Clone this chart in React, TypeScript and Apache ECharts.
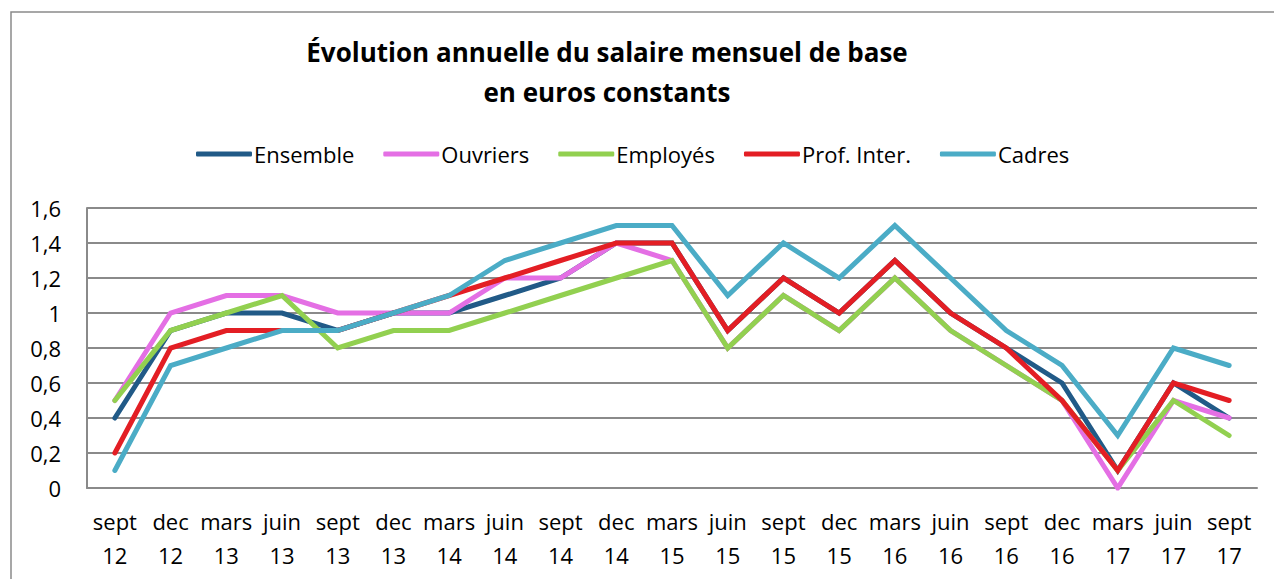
import React, { useEffect, useRef } from "react";
import * as echarts from "echarts";

const months = ["sept", "dec", "mars", "juin", "sept", "dec", "mars", "juin", "sept", "dec", "mars", "juin", "sept", "dec", "mars", "juin", "sept", "dec", "mars", "juin", "sept"];
const years = ["12", "12", "13", "13", "13", "13", "14", "14", "14", "14", "15", "15", "15", "15", "16", "16", "16", "16", "17", "17", "17"];

const ensemble = [0.4, 0.9, 1.0, 1.0, 0.9, 1.0, 1.0, 1.1, 1.2, 1.4, 1.4, 0.9, 1.2, 1.0, 1.3, 1.0, 0.8, 0.6, 0.1, 0.6, 0.4];
const ouvriers = [0.5, 1.0, 1.1, 1.1, 1.0, 1.0, 1.0, 1.2, 1.2, 1.4, 1.3, 0.8, 1.1, 0.9, 1.2, 0.9, 0.7, 0.5, 0.0, 0.5, 0.4];
const employes = [0.5, 0.9, 1.0, 1.1, 0.8, 0.9, 0.9, 1.0, 1.1, 1.2, 1.3, 0.8, 1.1, 0.9, 1.2, 0.9, 0.7, 0.5, 0.1, 0.5, 0.3];
const profInter = [0.2, 0.8, 0.9, 0.9, 0.9, 1.0, 1.1, 1.2, 1.3, 1.4, 1.4, 0.9, 1.2, 1.0, 1.3, 1.0, 0.8, 0.5, 0.1, 0.6, 0.5];
const cadres = [0.1, 0.7, 0.8, 0.9, 0.9, 1.0, 1.1, 1.3, 1.4, 1.5, 1.5, 1.1, 1.4, 1.2, 1.5, 1.2, 0.9, 0.7, 0.3, 0.8, 0.7];

const seriesNames = ["Ensemble", "Ouvriers", "Employés", "Prof. Inter.", "Cadres"];
const seriesColors = ["#215A87", "#E46FE4", "#92D050", "#E31E24", "#4BACC6"];
const seriesData = [ensemble, ouvriers, employes, profInter, cadres];

const titleLines = ["Évolution annuelle du salaire mensuel de base", "en euros constants"];

const FONT = "'Open Sans', sans-serif";

export default function App() {
  const ref = useRef<HTMLDivElement>(null);
  useEffect(() => {
    if (!ref.current) return;
    const chart = echarts.init(ref.current, undefined, { renderer: "svg" });
    const categories = months.map((m, i) => m + "\n" + years[i]);
    chart.setOption({
      animation: false,
      backgroundColor: "#ffffff",
      textStyle: { fontFamily: FONT },
      graphic: [
        {
          type: "rect",
          shape: { x: 11, y: 12, width: 1300, height: 620 },
          style: { fill: "none", stroke: "#8a8a8a", lineWidth: 1.5 },
          silent: true,
          z: -1,
        },
        {
          type: "text",
          x: 607,
          y: 52,
          style: {
            text: titleLines[0],
            fontFamily: FONT,
            fontWeight: "bold",
            fontSize: 26,
            fill: "#000",
            textAlign: "center",
            textVerticalAlign: "middle",
          },
        },
        {
          type: "text",
          x: 607,
          y: 92,
          style: {
            text: titleLines[1],
            fontFamily: FONT,
            fontWeight: "bold",
            fontSize: 26,
            fill: "#000",
            textAlign: "center",
            textVerticalAlign: "middle",
          },
        },
      ],
      legend: {
        data: seriesNames,
        left: 191,
        top: 138,
        icon: "roundRect",
        itemWidth: 56,
        itemHeight: 5,
        itemGap: 29,
        textStyle: { fontFamily: FONT, fontSize: 22, color: "#000", padding: [0, 0, 0, -3] },
      },
      grid: { left: 87, top: 208, right: 17, bottom: 91, containLabel: false },
      xAxis: {
        type: "category",
        data: categories,
        boundaryGap: true,
        axisLine: { show: true, lineStyle: { color: "#8a8a8a", width: 2 } },
        axisTick: { show: false },
        axisLabel: {
          interval: 0,
          color: "#000",
          fontFamily: FONT,
          fontSize: 22,
          lineHeight: 34,
          margin: 16,
        },
      },
      yAxis: {
        type: "value",
        min: 0,
        max: 1.6,
        interval: 0.2,
        axisLine: { show: true, lineStyle: { color: "#8a8a8a", width: 2 } },
        axisTick: { show: false },
        splitLine: { show: true, lineStyle: { color: "#8a8a8a", width: 2 } },
        axisLabel: {
          color: "#000",
          fontFamily: FONT,
          fontSize: 22,
          margin: 26,
          formatter: (v: number) => String(Math.round(v * 10) / 10).replace(".", ","),
        },
      },
      series: seriesNames.map((name, i) => ({
        name,
        type: "line",
        data: seriesData[i],
        showSymbol: false,
        symbol: "none",
        color: seriesColors[i],
        lineStyle: { width: 5, color: seriesColors[i], cap: "round", join: "miter" },
        z: 2 + i,
      })),
    });
    return () => chart.dispose();
  }, []);
  return <div ref={ref} style={{ position: "fixed", left: 0, top: 0, width: 1274, height: 579 }} />;
}
